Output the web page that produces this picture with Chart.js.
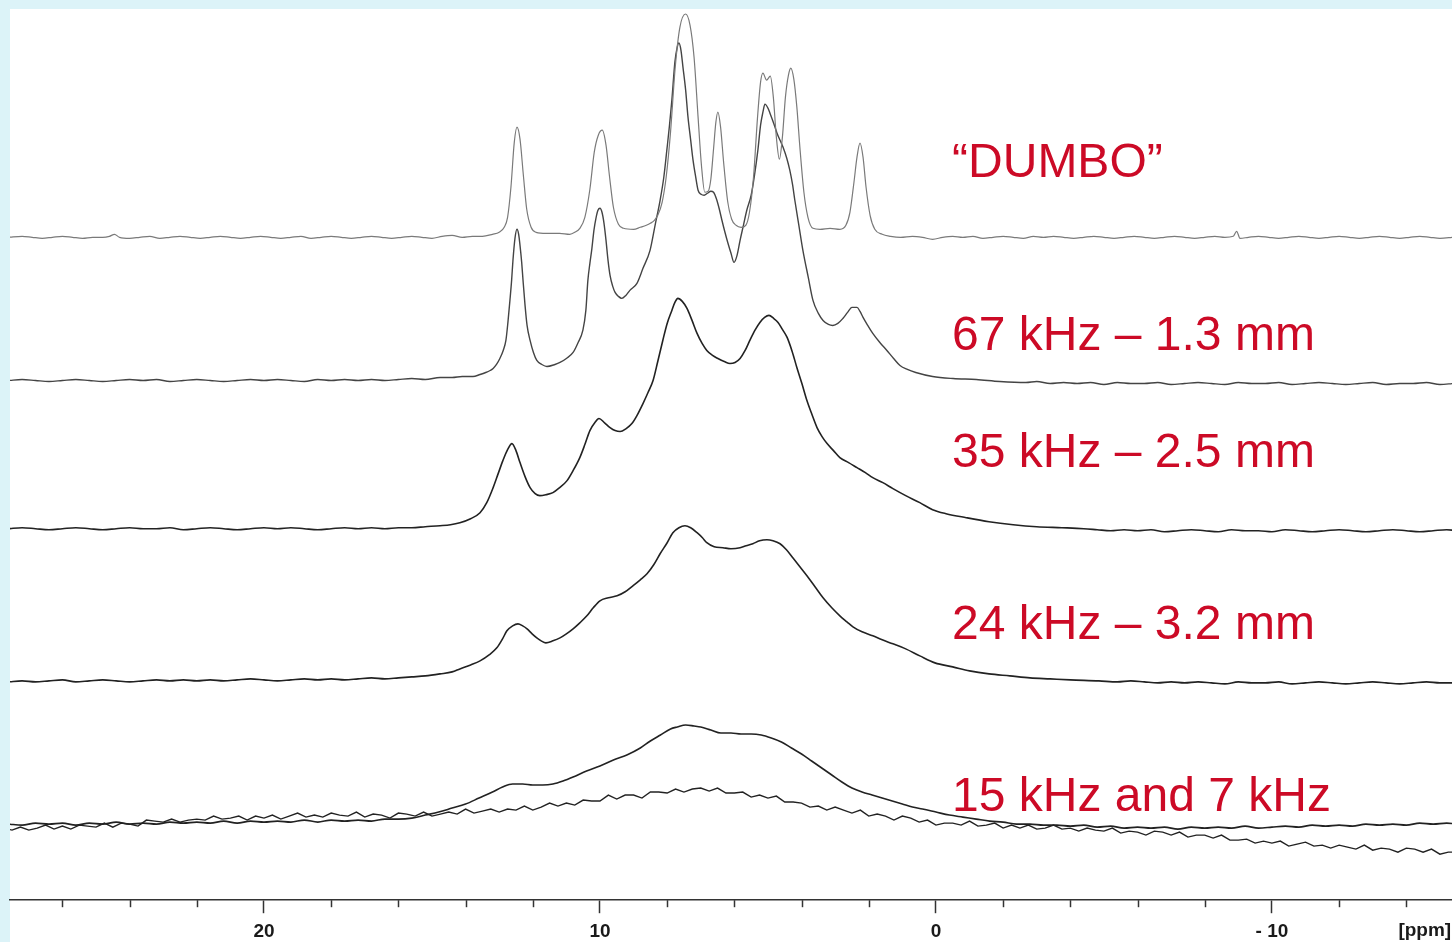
<!DOCTYPE html>
<html>
<head>
<meta charset="utf-8">
<script src="https://cdn.jsdelivr.net/npm/chart.js@4.4.1/dist/chart.umd.min.js"></script>
<style>
  html, body { margin: 0; padding: 0; background: #dcf3f8; }
  #wrap { position: absolute; left: 0; top: 0; width: 1452px; height: 942px; }
</style>
</head>
<body>
<div id="wrap"><canvas id="c" width="1452" height="942"></canvas></div>
<script>
// ---------- DATA (ppm, intensity above each trace's own baseline) ----------
const seriesNames = ['\u201CDUMBO\u201D', '67 kHz \u2013 1.3 mm', '35 kHz \u2013 2.5 mm', '24 kHz \u2013 3.2 mm', '15 kHz and 7 kHz'];
const majorTicks = [20, 10, 0, -10];
const majorLabels = ['20', '10', '0', '- 10'];
const unitLabel = '[ppm]';
const stackOffsets = [662, 519, 371, 219, 74, 71]; // DUMBO, 67, 35, 24, 15, 7 kHz

const dumbo = [[27.6,0],[27.2,1],[26.9,0],[26.6,-1],[26.3,0],[26.0,1],[25.7,0],[25.4,-1],[25.1,0],[24.8,0],[24.6,1],[24.45,3],[24.3,0],[24.0,-1],[23.7,0],[23.4,1],[23.1,-1],[22.8,0],[22.5,1],[22.2,0],[21.9,-1],[21.6,0],[21.3,1],[21.0,0],[20.7,-1],[20.4,0],[20.1,1],[19.8,0],[19.5,-1],[19.2,0],[18.9,1],[18.6,-1],[18.3,0],[18.0,1],[17.7,0],[17.4,-1],[17.1,0],[16.8,1],[16.5,0],[16.2,-1],[15.9,0],[15.6,1],[15.3,0],[15.0,-1],[14.7,1],[14.4,2],[14.1,0],[13.8,1],[13.5,1],[13.2,3],[13.0,5],[12.85,10],[12.75,20],[12.65,50],[12.55,95],[12.47,110],[12.38,98],[12.28,62],[12.18,28],[12.05,10],[11.9,5],[11.6,4],[11.2,4],[10.9,3],[10.75,5],[10.6,9],[10.45,20],[10.3,48],[10.17,85],[10.05,102],[9.93,107],[9.82,92],[9.72,62],[9.6,30],[9.45,13],[9.3,9],[9.0,8],[8.8,10],[8.62,12],[8.5,14],[8.38,17],[8.28,22],[8.15,35],[8.03,60],[7.9,105],[7.76,170],[7.62,210],[7.45,223],[7.32,212],[7.2,180],[7.08,120],[6.98,72],[6.88,45],[6.78,46],[6.7,58],[6.62,88],[6.55,115],[6.49,125],[6.41,110],[6.32,75],[6.2,36],[6.08,18],[5.95,12],[5.8,10],[5.66,12],[5.55,25],[5.43,60],[5.31,120],[5.22,155],[5.15,164],[5.04,157],[4.93,161],[4.84,140],[4.75,100],[4.66,78],[4.57,100],[4.48,140],[4.39,162],[4.32,169],[4.23,158],[4.14,130],[4.05,90],[3.93,45],[3.81,20],[3.66,9],[3.45,8],[3.15,9],[2.86,8],[2.68,12],[2.56,25],[2.44,55],[2.35,80],[2.26,94],[2.17,80],[2.08,50],[1.96,22],[1.82,8],[1.6,3],[1.35,1],[1.05,0],[0.7,1],[0.4,0],[0.1,-2],[-0.2,0],[-0.5,1],[-0.8,0],[-1.1,1],[-1.4,-1],[-1.7,0],[-2.0,1],[-2.3,0],[-2.6,-1],[-2.9,1],[-3.2,0],[-3.5,1],[-3.8,0],[-4.1,-1],[-4.4,0],[-4.7,1],[-5.0,0],[-5.3,-1],[-5.6,0],[-5.9,1],[-6.2,0],[-6.5,-1],[-6.8,0],[-7.1,1],[-7.4,0],[-7.7,-1],[-8.0,0],[-8.3,1],[-8.6,0],[-8.85,1],[-8.95,6],[-9.05,-1],[-9.3,0],[-9.6,1],[-9.9,0],[-10.2,-1],[-10.5,0],[-10.8,1],[-11.1,0],[-11.4,-1],[-11.7,0],[-12.0,1],[-12.3,0],[-12.6,-1],[-12.9,0],[-13.2,1],[-13.5,0],[-13.8,-1],[-14.1,0],[-14.4,1],[-14.7,0],[-15.0,-1],[-15.4,0]];

const khz67 = [[27.6,0],[27.2,1],[26.8,0],[26.4,-1],[26.0,0],[25.6,1],[25.2,0],[24.8,-1],[24.4,0],[24.0,1],[23.6,0],[23.2,1],[22.8,-1],[22.4,0],[22.0,1],[21.6,0],[21.2,-1],[20.8,0],[20.4,1],[20.0,0],[19.6,1],[19.2,0],[18.8,-1],[18.4,1],[18.0,0],[17.6,1],[17.2,0],[16.8,1],[16.4,0],[16.0,1],[15.6,2],[15.2,1],[14.76,3],[14.4,3],[14.1,4],[13.78,4],[13.57,6],[13.4,8],[13.27,10],[13.18,12],[13.08,16],[12.98,22],[12.88,30],[12.8,40],[12.74,58],[12.68,80],[12.63,100],[12.59,120],[12.53,142],[12.47,151],[12.42,146],[12.38,135],[12.33,118],[12.29,100],[12.23,75],[12.17,55],[12.08,40],[11.98,28],[11.88,20],[11.73,16],[11.58,14],[11.34,16],[11.19,18],[11.0,22],[10.8,28],[10.65,38],[10.51,50],[10.42,70],[10.36,100],[10.3,117],[10.24,132],[10.18,150],[10.12,162],[10.06,170],[10.0,172],[9.94,168],[9.88,157],[9.82,140],[9.76,120],[9.7,105],[9.62,94],[9.55,88],[9.45,84],[9.35,82],[9.23,85],[9.11,90],[8.9,97],[8.72,112],[8.51,130],[8.36,155],[8.21,180],[8.1,203],[8.01,230],[7.93,255],[7.86,280],[7.77,318],[7.7,333],[7.65,337],[7.59,330],[7.53,313],[7.45,290],[7.38,263],[7.3,240],[7.23,220],[7.15,203],[7.08,190],[6.99,186],[6.9,185],[6.8,187],[6.7,189],[6.62,188],[6.52,180],[6.44,170],[6.37,160],[6.28,148],[6.19,137],[6.1,127],[6.01,118],[5.92,125],[5.83,140],[5.73,155],[5.63,170],[5.5,185],[5.4,205],[5.3,230],[5.22,255],[5.15,268],[5.09,276],[5.0,272],[4.94,267],[4.83,257],[4.73,247],[4.55,233],[4.44,222],[4.35,210],[4.27,196],[4.2,180],[4.08,155],[3.96,130],[3.8,103],[3.66,80],[3.5,67],[3.36,60],[3.2,56],[3.07,55],[2.92,57],[2.77,62],[2.63,68],[2.5,73],[2.35,73],[2.26,69],[2.17,63],[2.03,55],[1.88,47],[1.67,38],[1.46,30],[1.26,22],[1.07,15],[0.85,11],[0.6,8],[0.1,4],[-0.51,2],[-1.2,1],[-1.9,-1],[-2.68,-2],[-3.0,-1],[-3.4,-3],[-3.8,-2],[-4.2,-3],[-4.6,-2],[-5.0,-4],[-5.4,-2],[-5.8,-3],[-6.2,-3],[-6.6,-2],[-7.0,-4],[-7.4,-3],[-7.8,-2],[-8.2,-3],[-8.6,-4],[-9.0,-2],[-9.4,-3],[-9.8,-3],[-10.2,-2],[-10.6,-4],[-11.0,-3],[-11.4,-2],[-11.8,-3],[-12.2,-4],[-12.6,-3],[-13.0,-2],[-13.4,-4],[-13.8,-3],[-14.2,-3],[-14.6,-2],[-15.0,-4],[-15.4,-3]];

const khz35 = [[27.6,0],[27.2,1],[26.8,0],[26.4,-1],[26.0,0],[25.6,1],[25.2,0],[24.8,-1],[24.4,0],[24.0,1],[23.6,0],[23.2,0],[22.8,1],[22.4,-1],[22.0,0],[21.6,1],[21.2,0],[20.8,-1],[20.4,0],[20.0,1],[19.6,0],[19.2,1],[18.8,0],[18.4,-1],[18.0,0],[17.6,1],[17.2,0],[16.8,1],[16.4,0],[16.0,1],[15.6,1],[15.2,2],[14.76,3],[14.45,4],[14.17,6],[13.85,10],[13.57,16],[13.37,26],[13.18,41],[13.03,55],[12.89,68],[12.75,79],[12.62,85],[12.5,78],[12.38,66],[12.23,52],[12.08,41],[11.93,35],[11.79,33],[11.6,34],[11.4,36],[11.2,41],[10.98,48],[10.8,58],[10.6,71],[10.45,84],[10.3,98],[10.15,106],[10.03,110],[9.87,106],[9.7,101],[9.55,98],[9.4,97],[9.22,100],[9.05,105],[8.9,113],[8.72,125],[8.57,136],[8.42,148],[8.28,167],[8.13,188],[8.0,205],[7.86,218],[7.77,226],[7.68,230],[7.55,227],[7.41,220],[7.26,208],[7.11,195],[6.96,185],[6.82,178],[6.65,173],[6.49,170],[6.3,167],[6.13,165],[5.98,166],[5.83,170],[5.68,178],[5.54,188],[5.39,198],[5.24,206],[5.1,211],[4.97,213],[4.83,210],[4.7,206],[4.57,199],[4.43,191],[4.28,177],[4.14,161],[3.99,145],[3.84,128],[3.69,114],[3.54,101],[3.39,92],[3.24,85],[3.05,78],[2.86,71],[2.6,66],[2.35,61],[2.1,56],[1.88,51],[1.58,46],[1.28,40],[0.9,33],[0.48,26],[0.1,19],[-0.3,15],[-0.9,11],[-1.58,7],[-2.3,4],[-3.0,2],[-3.75,1],[-4.4,0],[-4.8,-1],[-5.2,-2],[-5.6,-1],[-6.0,-2],[-6.4,-1],[-6.8,-3],[-7.2,-2],[-7.6,-1],[-8.0,-2],[-8.4,-3],[-8.8,-1],[-9.2,-2],[-9.6,-2],[-10.0,-3],[-10.4,-1],[-10.8,-2],[-11.2,-3],[-11.6,-2],[-12.0,-1],[-12.4,-2],[-12.8,-3],[-13.2,-2],[-13.6,-1],[-14.0,-2],[-14.4,-3],[-14.8,-2],[-15.2,-1],[-15.5,-2]];

const khz24 = [[27.6,-1],[27.2,0],[26.8,-1],[26.4,0],[26.0,1],[25.6,-1],[25.2,0],[24.8,1],[24.4,0],[24.0,-1],[23.6,0],[23.2,1],[22.8,0],[22.4,1],[22.0,0],[21.6,1],[21.2,0],[20.8,1],[20.4,2],[20.0,1],[19.6,0],[19.2,1],[18.8,2],[18.4,1],[18.0,2],[17.6,1],[17.2,2],[16.8,3],[16.4,2],[16.0,3],[15.6,4],[15.2,5],[14.76,7],[14.4,9],[14.17,12],[13.85,16],[13.57,20],[13.3,26],[13.07,33],[12.9,42],[12.77,50],[12.6,55],[12.44,57],[12.3,55],[12.17,52],[12.02,47],[11.88,43],[11.75,40],[11.61,38],[11.4,40],[11.19,43],[11.0,47],[10.8,52],[10.6,58],[10.39,65],[10.2,73],[10.0,80],[9.75,83],[9.49,85],[9.25,89],[9.02,95],[8.8,101],[8.6,107],[8.4,116],[8.21,127],[8.0,138],[7.83,148],[7.65,153],[7.47,155],[7.3,153],[7.11,148],[6.95,143],[6.82,138],[6.6,134],[6.34,133],[6.1,132],[5.83,133],[5.65,135],[5.45,137],[5.25,140],[5.03,141],[4.85,140],[4.64,137],[4.45,131],[4.26,123],[4.05,114],[3.84,105],[3.6,94],[3.36,83],[3.1,73],[2.86,65],[2.65,59],[2.47,54],[2.2,49],[1.88,45],[1.6,41],[1.28,37],[0.9,32],[0.48,25],[0.03,18],[-0.5,14],[-1.0,10],[-1.58,7],[-2.2,5],[-2.8,3],[-3.4,2],[-4.0,1],[-4.85,0],[-5.4,-1],[-5.8,0],[-6.2,-1],[-6.6,-2],[-7.0,-1],[-7.4,-2],[-7.8,-1],[-8.2,-2],[-8.6,-3],[-9.0,-1],[-9.4,-2],[-9.8,-2],[-10.2,-1],[-10.6,-3],[-11.0,-2],[-11.4,-1],[-11.8,-2],[-12.2,-3],[-12.6,-2],[-13.0,-1],[-13.4,-2],[-13.8,-3],[-14.2,-2],[-14.6,-1],[-15.0,-2],[-15.4,-2]];

const khz15 = [[27.6,2],[27.2,1],[26.8,3],[26.4,2],[26.0,3],[25.6,1],[25.2,3],[24.8,2],[24.4,4],[24.0,2],[23.6,3],[23.2,2],[22.8,4],[22.4,3],[22.0,4],[21.6,3],[21.2,5],[20.8,3],[20.4,5],[20.0,4],[19.6,5],[19.2,4],[18.8,6],[18.4,4],[18.0,6],[17.6,5],[17.2,6],[16.8,5],[16.4,7],[16.0,7],[15.6,8],[15.2,11],[14.8,14],[14.4,18],[14.0,22],[13.6,28],[13.2,34],[12.9,39],[12.6,42],[12.3,42],[12.0,41],[11.7,41],[11.4,42],[11.1,45],[10.8,49],[10.4,55],[10.0,60],[9.6,66],[9.2,71],[8.8,78],[8.5,85],[8.2,91],[7.9,97],[7.7,99],[7.45,101],[7.2,100],[7.0,99],[6.7,96],[6.4,93],[6.1,93],[5.8,92],[5.5,92],[5.2,91],[4.9,88],[4.6,84],[4.3,78],[4.0,72],[3.7,65],[3.4,58],[3.1,51],[2.8,44],[2.5,38],[2.2,34],[1.9,31],[1.6,28],[1.3,25],[1.0,22],[0.7,19],[0.4,17],[0.0,14],[-0.4,11],[-0.8,9],[-1.2,7],[-1.6,5],[-2.0,4],[-2.4,2],[-2.8,2],[-3.2,1],[-3.6,1],[-4.0,0],[-4.4,1],[-4.8,-1],[-5.2,0],[-5.6,-2],[-6.0,-1],[-6.4,-2],[-6.8,-1],[-7.2,-3],[-7.6,-1],[-8.0,-2],[-8.4,-1],[-8.8,-2],[-9.2,0],[-9.6,-2],[-10.0,-1],[-10.4,0],[-10.8,-1],[-11.2,1],[-11.6,0],[-12.0,1],[-12.4,0],[-12.8,2],[-13.2,1],[-13.6,2],[-14.0,1],[-14.4,3],[-14.8,2],[-15.2,3],[-15.5,2]];

const khz7 = [[27.75,1],[27.5,-1],[27.25,2],[27.0,-1],[26.75,1],[26.5,4],[26.25,0],[26.0,3],[25.75,0],[25.5,4],[25.25,3],[25.0,2],[24.75,6],[24.5,2],[24.25,6],[24.0,5],[23.75,3],[23.5,9],[23.25,8],[23.0,7],[22.75,10],[22.5,7],[22.25,9],[22.0,10],[21.75,9],[21.5,13],[21.25,10],[21.0,11],[20.75,13],[20.5,9],[20.25,13],[20.0,11],[19.75,14],[19.5,10],[19.25,13],[19.0,16],[18.75,12],[18.5,14],[18.25,12],[18.0,16],[17.75,14],[17.5,13],[17.25,17],[17.0,12],[16.75,15],[16.5,14],[16.25,11],[16.0,16],[15.75,15],[15.5,13],[15.25,17],[15.0,13],[14.75,15],[14.5,17],[14.25,15],[14.0,20],[13.75,16],[13.5,18],[13.25,20],[13.0,17],[12.75,20],[12.5,19],[12.25,23],[12.0,19],[11.75,22],[11.5,26],[11.25,23],[11.0,26],[10.75,24],[10.5,29],[10.25,28],[10.0,28],[9.75,34],[9.5,30],[9.25,34],[9.0,34],[8.75,31],[8.5,37],[8.25,37],[8.0,36],[7.75,40],[7.5,37],[7.25,40],[7.0,41],[6.75,38],[6.5,41],[6.25,36],[6.0,36],[5.75,37],[5.5,32],[5.25,34],[5.0,31],[4.75,33],[4.5,27],[4.25,27],[4.0,26],[3.75,22],[3.5,23],[3.25,19],[3.0,22],[2.75,19],[2.5,16],[2.25,19],[2.0,13],[1.75,15],[1.5,13],[1.25,9],[1.0,13],[0.75,11],[0.5,7],[0.25,9],[0.0,4],[-0.25,6],[-0.5,6],[-0.75,4],[-1.0,8],[-1.25,3],[-1.5,4],[-1.75,6],[-2.0,1],[-2.25,4],[-2.5,1],[-2.75,4],[-3.0,0],[-3.25,1],[-3.5,4],[-3.75,0],[-4.0,1],[-4.25,-2],[-4.5,1],[-4.75,-1],[-5.0,-2],[-5.25,1],[-5.5,-4],[-5.75,-2],[-6.0,-3],[-6.25,-6],[-6.5,-2],[-6.75,-3],[-7.0,-6],[-7.25,-3],[-7.5,-8],[-7.75,-6],[-8.0,-6],[-8.25,-9],[-8.5,-6],[-8.75,-11],[-9.0,-11],[-9.25,-10],[-9.5,-14],[-9.75,-12],[-10.0,-14],[-10.25,-12],[-10.5,-17],[-10.75,-15],[-11.0,-13],[-11.25,-17],[-11.5,-16],[-11.75,-19],[-12.0,-16],[-12.25,-18],[-12.5,-20],[-12.75,-16],[-13.0,-21],[-13.25,-19],[-13.5,-20],[-13.75,-23],[-14.0,-19],[-14.25,-20],[-14.5,-23],[-14.75,-20],[-15.0,-25],[-15.25,-23],[-15.5,-23]];

// label anchor positions (ppm, chart units) for the series captions
const captionPpm = -0.48;
const captionLevels = [722, 549, 433, 261, 89];

// ---------- CHART ----------
const spectra = [dumbo, khz67, khz35, khz24, khz15, khz7];
const lineColors = ['#7a7a7a', '#444444', '#222222', '#222222', '#222222', '#222222'];
const lineWidths = [1.2, 1.4, 1.6, 1.6, 1.6, 1.4];

const datasets = spectra.map((s, k) => ({
  label: k < 5 ? seriesNames[k] : '7 kHz',
  data: s.map(p => ({ x: p[0], y: p[1] + stackOffsets[k] })),
  showLine: true,
  borderColor: lineColors[k],
  borderWidth: lineWidths[k],
  pointRadius: 0,
  fill: false,
  tension: 0,
  cubicInterpolationMode: k === 5 ? 'default' : 'monotone'
}));

const bgPlugin = {
  id: 'bg',
  beforeDraw(chart) {
    const ctx = chart.ctx;
    ctx.save();
    ctx.fillStyle = '#dcf3f8';
    ctx.fillRect(0, 0, chart.width, chart.height);
    ctx.fillStyle = '#ffffff';
    ctx.fillRect(10, 9, chart.width - 10, chart.height - 9);
    ctx.restore();
  }
};

const decoPlugin = {
  id: 'deco',
  afterDraw(chart) {
    const ctx = chart.ctx;
    const xs = chart.scales.x, ys = chart.scales.y;
    ctx.save();
    // minor ticks
    ctx.strokeStyle = '#333333';
    ctx.lineWidth = 1.5;
    xs.ticks.forEach(t => {
      if (majorTicks.indexOf(t.value) === -1) {
        const px = Math.round(xs.getPixelForValue(t.value)) + 0.5;
        ctx.beginPath();
        ctx.moveTo(px, xs.top);
        ctx.lineTo(px, xs.top + 7);
        ctx.stroke();
      }
    });
    // unit label
    ctx.fillStyle = '#1a1a1a';
    ctx.font = 'bold 19px "Liberation Sans", Arial, sans-serif';
    ctx.textAlign = 'center';
    ctx.textBaseline = 'middle';
    ctx.fillText(unitLabel, xs.getPixelForValue(-14.55), xs.top + 31);
    // captions
    ctx.fillStyle = '#cc0a26';
    ctx.font = '48px "Liberation Sans", Arial, sans-serif';
    ctx.textAlign = 'left';
    ctx.textBaseline = 'alphabetic';
    seriesNames.forEach((n, i) => {
      ctx.fillText(n, xs.getPixelForValue(captionPpm), ys.getPixelForValue(captionLevels[i]));
    });
    ctx.restore();
  }
};

new Chart(document.getElementById('c'), {
  type: 'scatter',
  data: { datasets },
  options: {
    responsive: false,
    devicePixelRatio: 1,
    animation: false,
    events: [],
    layout: { padding: { left: 10, top: 9, right: 0, bottom: -8 } },
    plugins: { legend: { display: false }, tooltip: { enabled: false } },
    scales: {
      x: {
        type: 'linear',
        reverse: true,
        min: -15.36,
        max: 27.56,
        border: { display: true, color: '#333333', width: 1.5 },
        grid: {
          drawOnChartArea: false,
          drawTicks: true,
          tickLength: 13,
          tickWidth: 1.5,
          tickColor: ctx => (ctx.tick && majorTicks.indexOf(ctx.tick.value) !== -1) ? '#333333' : 'rgba(0,0,0,0)'
        },
        ticks: {
          stepSize: 2,
          includeBounds: false,
          autoSkip: false,
          maxRotation: 0,
          padding: 7,
          color: '#1a1a1a',
          font: { family: '"Liberation Sans", Arial, sans-serif', size: 19, weight: 'bold' },
          callback: v => { const i = majorTicks.indexOf(v); return i === -1 ? '' : majorLabels[i]; }
        }
      },
      y: { display: false, min: 0, max: 890 }
    }
  },
  plugins: [bgPlugin, decoPlugin]
});
</script>
</body>
</html>
